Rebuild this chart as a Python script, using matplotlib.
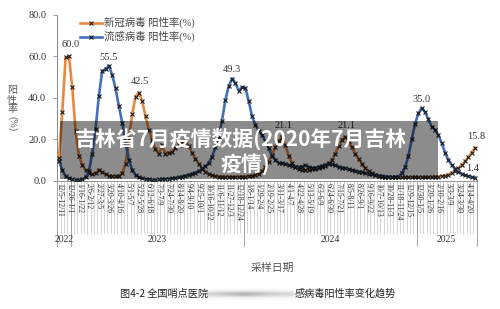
import matplotlib.pyplot as plt
import matplotlib.transforms as mtransforms
from matplotlib.patches import Rectangle
import numpy as np

# weekly positivity (%), 2022-12-05 .. 2025-05-04
covid = [
    11, 33, 59.5, 60.0, 45, 24, 12, 7.5, 5, 3.5,
    3, 3.5, 5.2, 4, 3, 2.3, 2, 2, 2.2, 3.5,
    8, 20, 32, 40.5, 42.5, 38.5, 31, 24.5, 19.5, 15,
    13, 17, 13, 13.5, 14, 15.5, 17, 18.5, 19, 16.5,
    13.5, 10.5, 8, 6, 4.3, 3.2, 2.5, 2.1, 1.9, 1.8,
    1.8, 1.7, 1.7, 1.7, 1.8, 1.8, 1.9, 2, 2.2, 2.6,
    3.2, 4.5, 6.5, 9, 12.5, 16, 19, 21.1, 17, 12,
    8.5, 6.5, 5.5, 5, 5, 5.3, 5.5, 5.8, 6.2, 6.5,
    7, 8, 9.8, 13, 16.5, 19.5, 21.1, 19, 16, 13,
    10.5, 8, 6, 4.5, 3.5, 2.7, 2.2, 1.9, 1.7, 1.6,
    1.6, 1.5, 1.5, 1.5, 1.5, 1.5, 1.5, 1.5, 1.5, 1.5,
    1.6, 1.6, 1.7, 1.8, 1.9, 2.1, 2.4, 2.9, 3.6, 4.6,
    5.9, 7.4, 9.2, 11.3, 13.5, 15.8,
]
flu = [
    9.5, 5, 2, 1, 0.5, 0.4, 0.4, 0.5, 1.5, 4.5,
    13, 25, 41, 53, 53.8, 55.5, 51, 44.5, 36, 28,
    18.5, 10, 5, 2.7, 1.5, 1, 0.7, 0.5, 0.4, 0.4,
    0.5, 0.6, 0.7, 0.8, 1.0, 1.2, 1.5, 1.9, 2.4, 2.8,
    3.2, 3.8, 4.5, 5.5, 6.8, 8.5, 11.5, 16, 21, 29,
    39, 45.5, 49.3, 47, 43.5, 45, 44.8, 38.5, 31, 27,
    24, 22, 19, 15.5, 12, 10, 8.5, 8.5, 8, 7.5,
    7, 6.7, 6.5, 6.7, 7.3, 6.5, 6, 6.2, 6.7, 7,
    7.5, 8.5, 8, 7.3, 6.7, 6.2, 5.9, 5.5, 5, 4.7,
    4.3, 4, 3.6, 3.2, 3, 2.7, 2.4, 2.1, 1.9, 1.7,
    1.6, 1.6, 1.8, 3.5, 6.5, 12, 20, 27.5, 32.5, 35.0,
    33, 29.5, 26, 24.5, 22, 18, 13.5, 10, 7.5, 5.8,
    4.3, 3.3, 2.6, 2.1, 1.7, 1.4,
]

week_labels = [
    "12/5-12/11", "12/26-1/1", "1/16-1/22", "2/6-2/12", "2/27-3/5",
    "3/20-3/26", "4/10-4/16", "5/1-5/7", "5/22-5/28", "6/12-6/18",
    "7/3-7/9", "7/24-7/30", "8/14-8/20", "9/4-9/10", "9/25-10/1",
    "10/16-10/22", "11/6-11/12", "11/27-12/3", "12/18-12/24", "1/8-1/14",
    "1/29-2/4", "2/19-2/25", "3/11-3/17", "4/1-4/7", "4/22-4/28",
    "5/13-5/19", "6/3-6/9", "6/24-6/30", "7/15-7/21", "8/5-8/11",
    "8/26-9/1", "9/16-9/22", "10/7-10/13", "10/28-11/3", "11/18-11/24",
    "12/9-12/15", "12/30-1/5", "1/20-1/26", "2/10-2/16", "3/3-3/9",
    "3/24-3/30", "4/14-4/20",
]
label_step = 3

years = ["2022", "2023", "2024", "2025"]
year_weeks = [4, 52, 52, 18]

covid_peaks = [3, 24, 67, 86, 125]
flu_peaks = [15, 52, 109, 125]

ORANGE = "#E8873F"
BLUE = "#4470B8"
SERIF = ["Liberation Serif", "Noto Sans CJK SC"]
CJK = ["Noto Sans CJK SC", "DejaVu Sans"]

n = len(covid)
x = np.arange(n)

fig = plt.figure(figsize=(5, 3.09), dpi=100)
ax = fig.add_axes([57.3 / 500, 1 - 180.5 / 309, 419.4 / 500, 165.5 / 309])

ax.plot(x, covid, color=ORANGE, lw=1.9, marker="x", ms=2.6, mew=0.8,
        mec="#1a1a1a", label="新冠病毒 阳性率(%)", zorder=3)
ax.plot(x, flu, color=BLUE, lw=1.9, marker="x", ms=2.6, mew=0.8,
        mec="#1a1a1a", label="流感病毒 阳性率(%)", zorder=4)

for i in covid_peaks:
    ax.annotate(f"{covid[i]:.1f}", (i, covid[i]), xytext=(1, 5),
                textcoords="offset points", ha="center", va="bottom",
                fontsize=7.5, family=SERIF, color="#333333")
for i in flu_peaks:
    dx = -2 if i == n - 1 else 0
    ax.annotate(f"{flu[i]:.1f}", (i, flu[i]), xytext=(dx, 3),
                textcoords="offset points", ha="center", va="bottom",
                fontsize=7.5, family=SERIF, color="#333333")

ax.set_xlim(-0.5, n - 0.5)
ax.set_ylim(0, 80)
ax.set_yticks([0, 20, 40, 60, 80])
ax.set_yticklabels([f"{v:.1f}" for v in [0, 20, 40, 60, 80]],
                   family=SERIF, fontsize=7.5, color="#333333")
ax.tick_params(axis="y", length=3, width=0.6, color="#888888", pad=5)

ax.set_xticks(x[::label_step])
ax.set_xticklabels(week_labels, rotation=270, family=SERIF, fontsize=5.6,
                   color="#333333", va="top", ha="center")
ax.tick_params(axis="x", length=0, pad=2)

for s in ["top", "right"]:
    ax.spines[s].set_visible(False)
ax.spines["left"].set_color("#888888")
ax.spines["left"].set_linewidth(0.7)
ax.spines["bottom"].set_color("#999999")
ax.spines["bottom"].set_linewidth(0.7)

# multi-level category axis lines
trans = mtransforms.blended_transform_factory(ax.transData, ax.transAxes)
for b in np.arange(-0.5, n, 1.0):
    ax.plot([b, b], [0, -0.317], transform=trans, color="#c4c4c4",
            lw=0.5, clip_on=False, zorder=1)
edges = np.concatenate([[0], np.cumsum(year_weeks)]) - 0.5
for b in edges:
    ax.plot([b, b], [0, -0.396], transform=trans, color="#9a9a9a",
            lw=0.6, clip_on=False, zorder=1)
for k, yr in enumerate(years):
    ax.text((edges[k] + edges[k + 1]) / 2, -0.355, yr, transform=trans,
            ha="center", va="center", fontsize=7, family=SERIF,
            color="#333333")

leg = ax.legend(loc="upper left", bbox_to_anchor=(75 / 500, 1 - 12 / 309),
                bbox_transform=fig.transFigure, frameon=False, borderpad=0,
                handlelength=2.1, handletextpad=0.2, labelspacing=0.25,
                prop={"family": SERIF, "size": 7.5})
for t in leg.get_texts():
    t.set_color("#444444")

# y label: stacked characters + rotated (%)
for ch, ypx in zip("阳性率", [90, 99.5, 109]):
    fig.text(12 / 500, 1 - ypx / 309, ch, family=CJK, fontsize=7.2,
             color="#555555", ha="center", va="center")
fig.text(12 / 500, 1 - 124 / 309, "(%)", family=SERIF, fontsize=7.2,
         color="#555555", ha="center", va="center", rotation=270)

fig.text(272 / 500, 1 - 268 / 309, "采样日期", family=CJK, fontsize=7.8,
         color="#555555", ha="center", va="center")

# caption with blurred middle
fig.text(120 / 500, 1 - 294 / 309, "图4-2 全国哨点医院", family=CJK,
         fontsize=7.3, color="#222222", ha="left", va="center")
fig.text(295 / 500, 1 - 294 / 309, "感病毒阳性率变化趋势", family=CJK,
         fontsize=7.3, color="#222222", ha="left", va="center")
bax = fig.add_axes([203 / 500, 1 - 300 / 309, 93 / 500, 12 / 309])
bx = np.linspace(-1, 1, 120)
by = np.linspace(-1, 1, 16)
blur = np.outer(np.exp(-(by / 0.6) ** 2),
                0.45 + 0.25 * np.exp(-((bx + 0.1) / 0.5) ** 2))
blur[:, :6] *= np.linspace(0.3, 1, 6)
blur[:, -6:] *= np.linspace(1, 0.2, 6)
bax.imshow(blur, cmap="Greys", vmin=0, vmax=1.7, aspect="auto",
           interpolation="bilinear")
bax.axis("off")

# watermark title box
box = Rectangle((60 / 500, 1 - 178.5 / 309), 377.7 / 500, 58 / 309,
                transform=fig.transFigure, facecolor="black", alpha=0.45,
                edgecolor="none", zorder=5)
fig.add_artist(box)
fig.text(241 / 500, 1 - 139 / 309, "吉林省7月疫情数据(2020年7月吉林",
         family=CJK, fontsize=15, weight="bold", color="white",
         ha="center", va="center", zorder=6)
fig.text(245 / 500, 1 - 164 / 309, "疫情)", family=CJK, fontsize=15,
         weight="bold", color="white", ha="center", va="center", zorder=6)

fig.savefig("out.png", dpi=100)
